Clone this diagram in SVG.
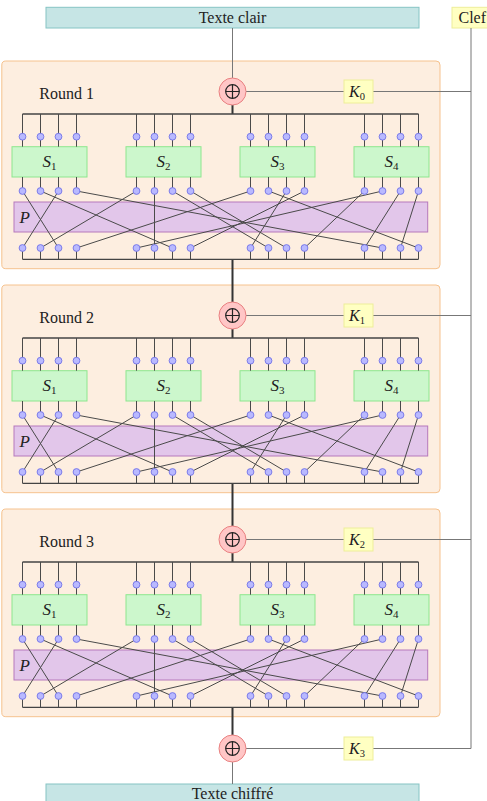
<svg xmlns="http://www.w3.org/2000/svg" width="487" height="801" viewBox="0 0 487 801">
<style>
.txtbox{fill:#c6e5e5;stroke:#86c4c4;stroke-width:1}
.keybox{fill:#ffffc2;stroke:#eeee99;stroke-width:1}
.round{fill:#fdeee0;stroke:#f6c28e;stroke-width:1}
.xor{fill:#ffc6c6;stroke:#e98080;stroke-width:1}
.sbox{fill:#ccf7cc;stroke:#8ee68e;stroke-width:1}
.pbox{fill:#e2c6ea;stroke:#b678bc;stroke-width:1}
.dot{fill:#b9b9ff;stroke:#7373e6;stroke-width:0.9}
text{fill:#222}
.wire{fill:none;stroke:#4a4a4a;stroke-width:1}
.bus{fill:none;stroke:#444;stroke-width:1.3}
.trunk{fill:none;stroke:#333;stroke-width:2}
.thin{fill:none;stroke:#777;stroke-width:1}
.plus{fill:none;stroke:#222;stroke-width:1.2}
</style>

<g id="round1"><rect class="round" x="1.8" y="61" width="438.2" height="207.7" rx="4"/><text font-family="Liberation Serif, DejaVu Serif, serif" x="39.3" y="98.7" font-size="16">Round 1</text></g>
<g id="round2"><rect class="round" x="1.8" y="285" width="438.2" height="207.7" rx="4"/><text font-family="Liberation Serif, DejaVu Serif, serif" x="39.3" y="322.7" font-size="16">Round 2</text></g>
<g id="round3"><rect class="round" x="1.8" y="509" width="438.2" height="207.7" rx="4"/><text font-family="Liberation Serif, DejaVu Serif, serif" x="39.3" y="546.7" font-size="16">Round 3</text></g>

<g id="plaintext"><rect class="txtbox" x="46" y="7.3" width="373" height="20.7"/><text font-family="Liberation Serif, DejaVu Serif, serif" x="232.5" y="22.7" font-size="16" text-anchor="middle">Texte clair</text></g>
<g id="key"><rect class="keybox" x="452" y="7.3" width="40" height="20.7"/><text font-family="Liberation Serif, DejaVu Serif, serif" x="458.5" y="22.7" font-size="16">Clef</text></g>
<g id="ciphertext"><rect class="txtbox" x="46" y="784" width="373" height="22"/><text font-family="Liberation Serif, DejaVu Serif, serif" x="232.5" y="799.4" font-size="16" text-anchor="middle">Texte chiffré</text></g>

<g id="sboxes-r1" font-family="Liberation Serif, DejaVu Serif, serif">
<g id="r1-s1"><rect class="sbox" x="12" y="146.7" width="75" height="30.3"/><text x="49.5" y="166.5" font-size="17" font-style="italic" text-anchor="middle">S<tspan font-size="11" font-style="normal" dy="3">1</tspan></text></g>
<g id="r1-s2"><rect class="sbox" x="126" y="146.7" width="75" height="30.3"/><text x="163.5" y="166.5" font-size="17" font-style="italic" text-anchor="middle">S<tspan font-size="11" font-style="normal" dy="3">2</tspan></text></g>
<g id="r1-s3"><rect class="sbox" x="240" y="146.7" width="75" height="30.3"/><text x="277.5" y="166.5" font-size="17" font-style="italic" text-anchor="middle">S<tspan font-size="11" font-style="normal" dy="3">3</tspan></text></g>
<g id="r1-s4"><rect class="sbox" x="354" y="146.7" width="75" height="30.3"/><text x="391.5" y="166.5" font-size="17" font-style="italic" text-anchor="middle">S<tspan font-size="11" font-style="normal" dy="3">4</tspan></text></g>
<g id="r1-p"><rect class="pbox" x="14" y="202" width="413.7" height="30"/><text x="19.5" y="223" font-size="17" font-style="italic">P</text></g>
</g>
<g id="sboxes-r2" font-family="Liberation Serif, DejaVu Serif, serif">
<g id="r2-s1"><rect class="sbox" x="12" y="370.7" width="75" height="30.3"/><text x="49.5" y="390.5" font-size="17" font-style="italic" text-anchor="middle">S<tspan font-size="11" font-style="normal" dy="3">1</tspan></text></g>
<g id="r2-s2"><rect class="sbox" x="126" y="370.7" width="75" height="30.3"/><text x="163.5" y="390.5" font-size="17" font-style="italic" text-anchor="middle">S<tspan font-size="11" font-style="normal" dy="3">2</tspan></text></g>
<g id="r2-s3"><rect class="sbox" x="240" y="370.7" width="75" height="30.3"/><text x="277.5" y="390.5" font-size="17" font-style="italic" text-anchor="middle">S<tspan font-size="11" font-style="normal" dy="3">3</tspan></text></g>
<g id="r2-s4"><rect class="sbox" x="354" y="370.7" width="75" height="30.3"/><text x="391.5" y="390.5" font-size="17" font-style="italic" text-anchor="middle">S<tspan font-size="11" font-style="normal" dy="3">4</tspan></text></g>
<g id="r2-p"><rect class="pbox" x="14" y="426" width="413.7" height="30"/><text x="19.5" y="447" font-size="17" font-style="italic">P</text></g>
</g>
<g id="sboxes-r3" font-family="Liberation Serif, DejaVu Serif, serif">
<g id="r3-s1"><rect class="sbox" x="12" y="594.7" width="75" height="30.3"/><text x="49.5" y="614.5" font-size="17" font-style="italic" text-anchor="middle">S<tspan font-size="11" font-style="normal" dy="3">1</tspan></text></g>
<g id="r3-s2"><rect class="sbox" x="126" y="594.7" width="75" height="30.3"/><text x="163.5" y="614.5" font-size="17" font-style="italic" text-anchor="middle">S<tspan font-size="11" font-style="normal" dy="3">2</tspan></text></g>
<g id="r3-s3"><rect class="sbox" x="240" y="594.7" width="75" height="30.3"/><text x="277.5" y="614.5" font-size="17" font-style="italic" text-anchor="middle">S<tspan font-size="11" font-style="normal" dy="3">3</tspan></text></g>
<g id="r3-s4"><rect class="sbox" x="354" y="594.7" width="75" height="30.3"/><text x="391.5" y="614.5" font-size="17" font-style="italic" text-anchor="middle">S<tspan font-size="11" font-style="normal" dy="3">4</tspan></text></g>
<g id="r3-p"><rect class="pbox" x="14" y="650" width="413.7" height="30"/><text x="19.5" y="671" font-size="17" font-style="italic">P</text></g>
</g>

<g id="connectors">
<path class="thin" d="M232.5 28V78M232.5 762V784M471 28V748.5M246 91.5H344M373 91.5H471M246 315.5H344M373 315.5H471M246 539.5H344M373 539.5H471M246 748.5H344M373 748.5H471"/>
<path class="trunk" d="M232.5 105V114M232.5 259.3V302M232.5 329V338M232.5 483.3V526M232.5 553V562M232.5 707.3V735"/>
<path class="bus" d="M22.5 114H418.5M22.5 259.3H418.5M22.5 338H418.5M22.5 483.3H418.5M22.5 562H418.5M22.5 707.3H418.5"/>
<path id="r1-wires" class="wire" d="M22.5 114v32.7m0 30.3v14m0 57v11.3M40.5 114v32.7m0 30.3v14m0 57v11.3M58.5 114v32.7m0 30.3v14m0 57v11.3M76.5 114v32.7m0 30.3v14m0 57v11.3M136.5 114v32.7m0 30.3v14m0 57v11.3M154.5 114v32.7m0 30.3v14m0 57v11.3M172.5 114v32.7m0 30.3v14m0 57v11.3M190.5 114v32.7m0 30.3v14m0 57v11.3M250.5 114v32.7m0 30.3v14m0 57v11.3M268.5 114v32.7m0 30.3v14m0 57v11.3M286.5 114v32.7m0 30.3v14m0 57v11.3M304.5 114v32.7m0 30.3v14m0 57v11.3M364.5 114v32.7m0 30.3v14m0 57v11.3M382.5 114v32.7m0 30.3v14m0 57v11.3M400.5 114v32.7m0 30.3v14m0 57v11.3M418.5 114v32.7m0 30.3v14m0 57v11.3"/>
<path id="r1-perm" class="wire" d="M22.5 191L58.5 248M40.5 191L172.5 248M58.5 191L22.5 248M76.5 191L382.5 248M136.5 191L40.5 248M154.5 191L154.5 248M172.5 191L268.5 248M190.5 191L286.5 248M250.5 191L76.5 248M268.5 191L418.5 248M286.5 191L250.5 248M304.5 191L190.5 248M364.5 191L304.5 248M382.5 191L136.5 248M400.5 191L364.5 248M418.5 191L400.5 248"/>
<path id="r2-wires" class="wire" transform="translate(0,224)" d="M22.5 114v32.7m0 30.3v14m0 57v11.3M40.5 114v32.7m0 30.3v14m0 57v11.3M58.5 114v32.7m0 30.3v14m0 57v11.3M76.5 114v32.7m0 30.3v14m0 57v11.3M136.5 114v32.7m0 30.3v14m0 57v11.3M154.5 114v32.7m0 30.3v14m0 57v11.3M172.5 114v32.7m0 30.3v14m0 57v11.3M190.5 114v32.7m0 30.3v14m0 57v11.3M250.5 114v32.7m0 30.3v14m0 57v11.3M268.5 114v32.7m0 30.3v14m0 57v11.3M286.5 114v32.7m0 30.3v14m0 57v11.3M304.5 114v32.7m0 30.3v14m0 57v11.3M364.5 114v32.7m0 30.3v14m0 57v11.3M382.5 114v32.7m0 30.3v14m0 57v11.3M400.5 114v32.7m0 30.3v14m0 57v11.3M418.5 114v32.7m0 30.3v14m0 57v11.3"/>
<path id="r2-perm" class="wire" transform="translate(0,224)" d="M22.5 191L58.5 248M40.5 191L172.5 248M58.5 191L22.5 248M76.5 191L382.5 248M136.5 191L40.5 248M154.5 191L154.5 248M172.5 191L268.5 248M190.5 191L286.5 248M250.5 191L76.5 248M268.5 191L418.5 248M286.5 191L250.5 248M304.5 191L190.5 248M364.5 191L304.5 248M382.5 191L136.5 248M400.5 191L364.5 248M418.5 191L400.5 248"/>
<path id="r3-wires" class="wire" transform="translate(0,448)" d="M22.5 114v32.7m0 30.3v14m0 57v11.3M40.5 114v32.7m0 30.3v14m0 57v11.3M58.5 114v32.7m0 30.3v14m0 57v11.3M76.5 114v32.7m0 30.3v14m0 57v11.3M136.5 114v32.7m0 30.3v14m0 57v11.3M154.5 114v32.7m0 30.3v14m0 57v11.3M172.5 114v32.7m0 30.3v14m0 57v11.3M190.5 114v32.7m0 30.3v14m0 57v11.3M250.5 114v32.7m0 30.3v14m0 57v11.3M268.5 114v32.7m0 30.3v14m0 57v11.3M286.5 114v32.7m0 30.3v14m0 57v11.3M304.5 114v32.7m0 30.3v14m0 57v11.3M364.5 114v32.7m0 30.3v14m0 57v11.3M382.5 114v32.7m0 30.3v14m0 57v11.3M400.5 114v32.7m0 30.3v14m0 57v11.3M418.5 114v32.7m0 30.3v14m0 57v11.3"/>
<path id="r3-perm" class="wire" transform="translate(0,448)" d="M22.5 191L58.5 248M40.5 191L172.5 248M58.5 191L22.5 248M76.5 191L382.5 248M136.5 191L40.5 248M154.5 191L154.5 248M172.5 191L268.5 248M190.5 191L286.5 248M250.5 191L76.5 248M268.5 191L418.5 248M286.5 191L250.5 248M304.5 191L190.5 248M364.5 191L304.5 248M382.5 191L136.5 248M400.5 191L364.5 248M418.5 191L400.5 248"/>
</g>

<defs>
<g id="dotrow">
<circle class="dot" cx="22.5" cy="0" r="3.4"/><circle class="dot" cx="40.5" cy="0" r="3.4"/><circle class="dot" cx="58.5" cy="0" r="3.4"/><circle class="dot" cx="76.5" cy="0" r="3.4"/>
<circle class="dot" cx="136.5" cy="0" r="3.4"/><circle class="dot" cx="154.5" cy="0" r="3.4"/><circle class="dot" cx="172.5" cy="0" r="3.4"/><circle class="dot" cx="190.5" cy="0" r="3.4"/>
<circle class="dot" cx="250.5" cy="0" r="3.4"/><circle class="dot" cx="268.5" cy="0" r="3.4"/><circle class="dot" cx="286.5" cy="0" r="3.4"/><circle class="dot" cx="304.5" cy="0" r="3.4"/>
<circle class="dot" cx="364.5" cy="0" r="3.4"/><circle class="dot" cx="382.5" cy="0" r="3.4"/><circle class="dot" cx="400.5" cy="0" r="3.4"/><circle class="dot" cx="418.5" cy="0" r="3.4"/>
</g>
</defs>
<g id="dots">
<use href="#dotrow" y="136.7"/><use href="#dotrow" y="191"/><use href="#dotrow" y="248"/>
<use href="#dotrow" y="360.7"/><use href="#dotrow" y="415"/><use href="#dotrow" y="472"/>
<use href="#dotrow" y="584.7"/><use href="#dotrow" y="639"/><use href="#dotrow" y="696"/>
</g>

<g id="xor0"><circle class="xor" cx="232.5" cy="91.5" r="13.5"/><circle class="plus" cx="232.5" cy="91.5" r="6.8"/><path class="plus" d="M225.7 91.5H239.3M232.5 84.7V98.3"/></g>
<g id="xor1"><circle class="xor" cx="232.5" cy="315.5" r="13.5"/><circle class="plus" cx="232.5" cy="315.5" r="6.8"/><path class="plus" d="M225.7 315.5H239.3M232.5 308.7V322.3"/></g>
<g id="xor2"><circle class="xor" cx="232.5" cy="539.5" r="13.5"/><circle class="plus" cx="232.5" cy="539.5" r="6.8"/><path class="plus" d="M225.7 539.5H239.3M232.5 532.7V546.3"/></g>
<g id="xor3"><circle class="xor" cx="232.5" cy="748.5" r="13.5"/><circle class="plus" cx="232.5" cy="748.5" r="6.8"/><path class="plus" d="M225.7 748.5H239.3M232.5 741.7V755.3"/></g>

<g id="keys" font-family="Liberation Serif, DejaVu Serif, serif">
<g id="k0"><rect class="keybox" x="344" y="80" width="29" height="23"/><text x="357" y="97" font-size="16" font-style="italic" text-anchor="middle">K<tspan font-size="10.5" font-style="normal" dy="2.5">0</tspan></text></g>
<g id="k1"><rect class="keybox" x="344" y="304" width="29" height="23"/><text x="357" y="321" font-size="16" font-style="italic" text-anchor="middle">K<tspan font-size="10.5" font-style="normal" dy="2.5">1</tspan></text></g>
<g id="k2"><rect class="keybox" x="344" y="528" width="29" height="23"/><text x="357" y="545" font-size="16" font-style="italic" text-anchor="middle">K<tspan font-size="10.5" font-style="normal" dy="2.5">2</tspan></text></g>
<g id="k3"><rect class="keybox" x="344" y="737" width="29" height="23"/><text x="357" y="754" font-size="16" font-style="italic" text-anchor="middle">K<tspan font-size="10.5" font-style="normal" dy="2.5">3</tspan></text></g>
</g>
</svg>
